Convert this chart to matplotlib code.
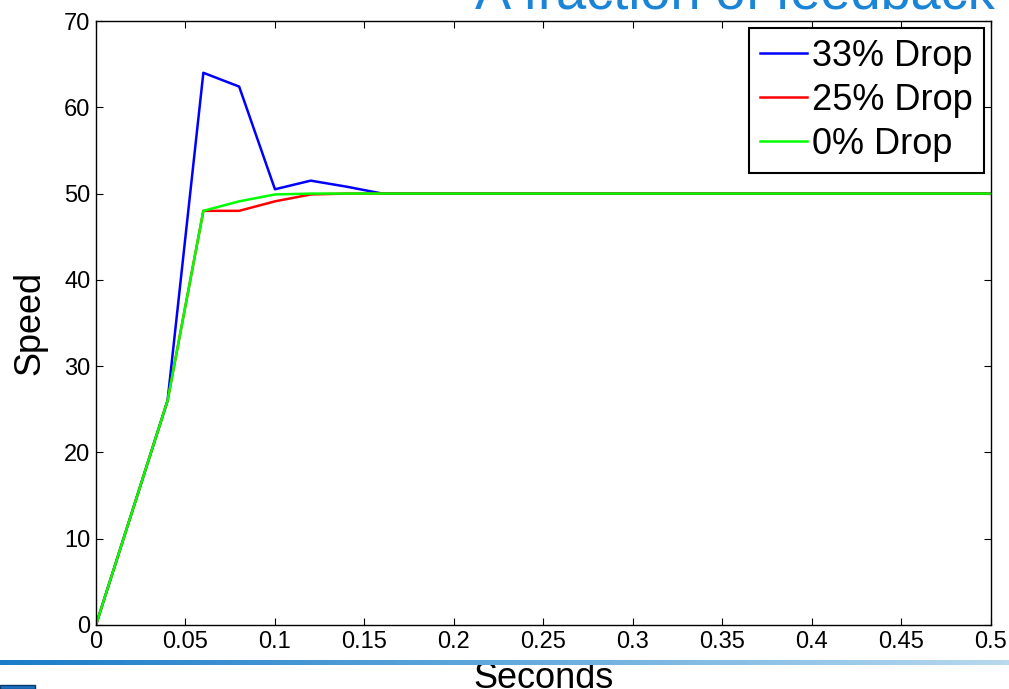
import numpy as np
import matplotlib
matplotlib.use("Agg")
import matplotlib.pyplot as plt
from matplotlib.colors import LinearSegmentedColormap
from matplotlib.patches import Rectangle

plt.rcParams["font.family"] = ["Liberation Sans", "DejaVu Sans"]

# -------------------------------
# data
# -------------------------------
t = [0, 0.02, 0.04, 0.06, 0.08, 0.10, 0.12, 0.14, 0.16, 0.18, 0.20, 0.22,
     0.24, 0.26, 0.28, 0.30, 0.32, 0.34, 0.36, 0.38, 0.40, 0.42, 0.44, 0.46,
     0.48, 0.50]
drop33 = [0, 13, 26, 64.0, 62.4, 50.5, 51.5, 50.8, 50.0, 50, 50, 50,
          50, 50, 50, 50, 50, 50, 50, 50, 50, 50, 50, 50, 50, 50]
drop25 = [0, 13, 26, 48.0, 48.0, 49.1, 49.9, 50.0, 50.0, 50, 50, 50,
          50, 50, 50, 50, 50, 50, 50, 50, 50, 50, 50, 50, 50, 50]
drop0 = [0, 13, 26, 48.0, 49.1, 49.9, 50.0, 50.0, 50.0, 50, 50, 50,
         50, 50, 50, 50, 50, 50, 50, 50, 50, 50, 50, 50, 50, 50]
labels = ["33% Drop", "25% Drop", "0% Drop"]
colors = ["#0000ff", "#ff0000", "#00ff00"]

xticks = [0, 0.05, 0.1, 0.15, 0.2, 0.25, 0.3, 0.35, 0.4, 0.45, 0.5]
yticks = [0, 10, 20, 30, 40, 50, 60, 70]

# -------------------------------
# plot
# -------------------------------
fig = plt.figure(figsize=(10.09, 6.89), dpi=100)
ax = fig.add_axes([0.0951, 0.0929, 0.8870, 0.8766])

for y, lab, c in zip([drop33, drop25, drop0], labels, colors):
    ax.plot(t, y, color=c, linewidth=1.8, label=lab)

ax.set_xlim(0, 0.5)
ax.set_ylim(0, 70)
ax.set_xticks(xticks)
ax.set_xticklabels([f"{v:g}" for v in xticks])
ax.set_yticks(yticks)
ax.tick_params(direction="in", length=5, width=0.8, top=True, right=True,
               labelsize=17, pad=4)
for s in ax.spines.values():
    s.set_linewidth(1.0)

ax.set_xlabel("Seconds", fontsize=26, labelpad=6)
ax.set_ylabel("Speed", fontsize=26, labelpad=12)

leg = ax.legend(loc="upper right", fontsize=26, fancybox=False, framealpha=1,
                edgecolor="black", handlelength=1.3, handletextpad=0.15,
                labelspacing=0.25, borderpad=0.3, borderaxespad=0.2)
leg.get_frame().set_linewidth(1.5)

# slide title (partly cut off at the top)
fig.text(0.986, 0.988, "A fraction of feedback", color="#1a85d6",
         fontsize=39, ha="right", va="baseline")

# slide decoration: gradient bar and small square
cmap = LinearSegmentedColormap.from_list("bar", ["#1a7cc8", "#62a9dc", "#b8d9ef"])
bar_ax = fig.add_axes([0, 1 - 665 / 689, 1, 5 / 689])
bar_ax.imshow(np.linspace(0, 1, 256)[None, :], aspect="auto", cmap=cmap)
bar_ax.set_axis_off()

fig.patches.append(Rectangle((0, 0), 35 / 1009, 4.5 / 689, transform=fig.transFigure,
                             facecolor="#1b6fbf", edgecolor="#0b3a6a", linewidth=1))

fig.savefig("out.png", dpi=100)
